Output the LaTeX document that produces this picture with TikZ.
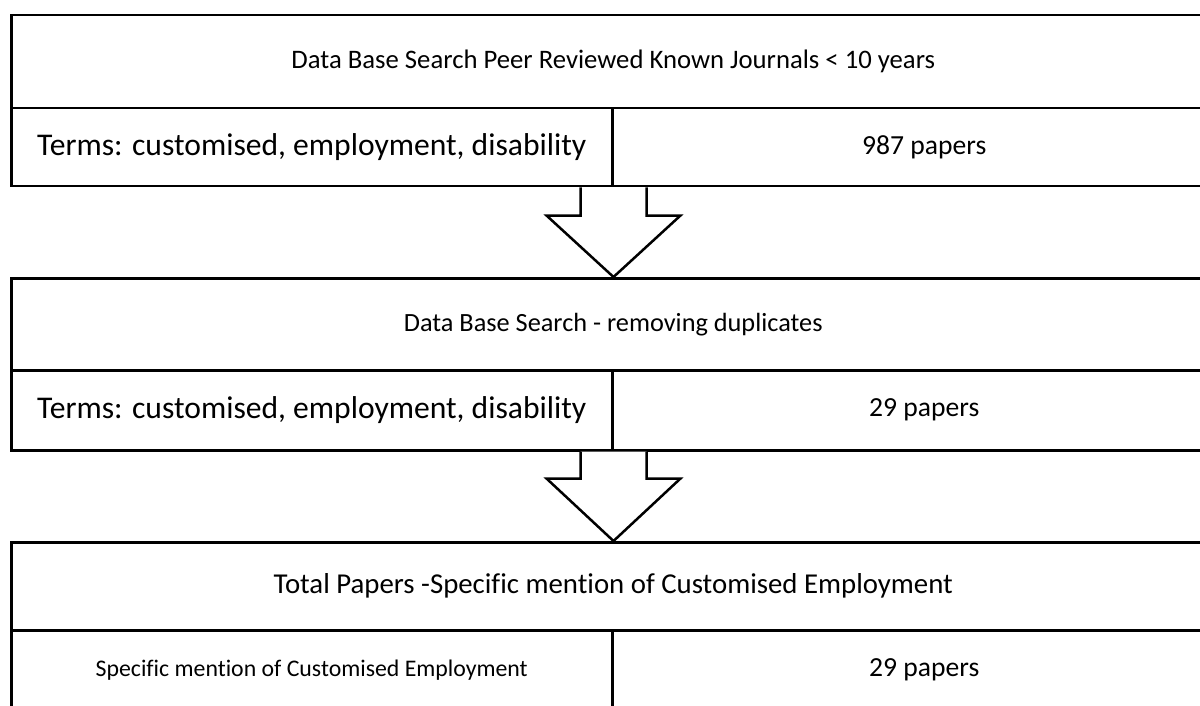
\documentclass[tikz,border=0pt]{standalone}
\usepackage{fontspec}
\setmainfont{Carlito}[Ligatures=NoCommon]
\usetikzlibrary{calc}
\begin{document}
\begin{tikzpicture}[x=1pt,y=1pt,
  cell/.style={draw=black,line width=2.5pt,inner sep=0pt,anchor=north west,align=center},
  fs/.style={font=\fontsize{#1}{#1}\selectfont},
  blockarrow/.style={draw=black,line width=2.5pt,fill=white,line join=miter}]
\useasboundingbox (0,0) rectangle (1200,-706);
\fill[white] (0,0) rectangle (1200,-706);
% box 1
\node[cell,fs=26.7,minimum width=1204pt,minimum height=93pt] (t1) at (10,-14) {Data Base Search Peer Reviewed Known Journals < 10 years};
\node[cell,fs=31.6,minimum width=601pt,minimum height=78pt] (l1) at (10,-107) {Terms: customised, employment, disability};
\node[cell,fs=27.6,minimum width=624pt,minimum height=78pt] (r1) at (611,-107) {987 papers};
% box 2
\node[cell,fs=26.3,minimum width=1204pt,minimum height=92pt] (t2) at (10,-277) {Data Base Search - removing duplicates};
\node[cell,fs=31.6,minimum width=601pt,minimum height=80pt] (l2) at (10,-369) {Terms: customised, employment, disability};
\node[cell,fs=27.6,minimum width=624pt,minimum height=80pt] (r2) at (611,-369) {29 papers};
% box 3
\node[cell,fs=28.8,minimum width=1204pt,minimum height=88pt] (t3) at (10,-541) {Total Papers -Specific mention of Customised Employment};
\node[cell,fs=23.8,minimum width=601pt,minimum height=80pt] (l3) at (10,-629) {Specific mention of Customised Employment};
\node[cell,fs=27.6,minimum width=624pt,minimum height=80pt] (r3) at (611,-629) {29 papers};
% arrows
\draw[blockarrow] ($(l1.south east)+(-33,0)$) -- ++(0,-28) -- ++(-34,0) -- (t2.north -| l1.south east) -- ($(l1.south east)+(67,-28)$) -- ++(-34,0) -- ($(l1.south east)+(33,0)$);
\draw[blockarrow] ($(l2.south east)+(-33,0)$) -- ++(0,-27) -- ++(-34,0) -- (t3.north -| l2.south east) -- ($(l2.south east)+(67,-27)$) -- ++(-34,0) -- ($(l2.south east)+(33,0)$);
\end{tikzpicture}
\end{document}
